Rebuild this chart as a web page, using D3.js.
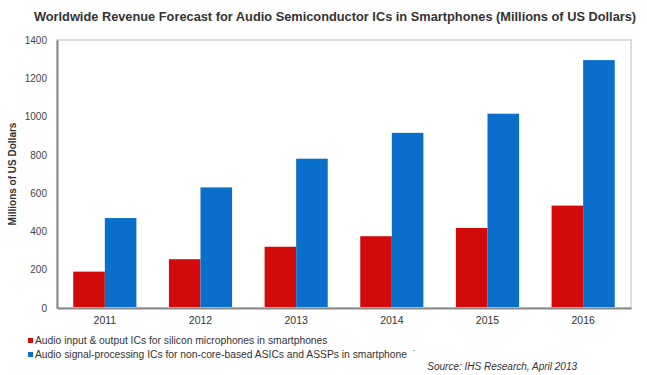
<!DOCTYPE html>
<html><head><meta charset="utf-8">
<script src="https://cdn.jsdelivr.net/npm/d3@7"></script>
<style>body{margin:0;background:#fff}svg{display:block;font-family:"Liberation Sans",Arial,sans-serif}</style>
</head><body><svg id="c" width="647" height="375"></svg>
<script>
const years = ["2011","2012","2013","2014","2015","2016"];
const inputOutput = [190, 255, 320, 375, 418, 535];
const signalProc = [470, 630, 780, 915, 1015, 1295];
const yTicks = [0,200,400,600,800,1000,1200,1400];
const seriesNames = ["Audio input & output ICs for silicon microphones in smartphones",
  "Audio signal-processing ICs for non-core-based ASICs and ASSPs in smartphone\u00a0\u00a0\u02d9"];
const colors = ["#d20a0a", "#0a6fca"];

const svg = d3.select("#c");
const m = {l:57, r:631, t:40, b:308};
const x = d3.scaleBand().domain(years).range([m.l, m.r]).paddingInner(0.34).paddingOuter(0.17);
const xs = d3.scaleBand().domain([0,1]).range([0, x.bandwidth()]);
const y = d3.scaleLinear().domain([0,1400]).range([m.b, m.t]);

svg.append("text").attr("x", 335).attr("y", 21).attr("text-anchor","middle")
  .attr("font-weight","bold").attr("font-size", 12.8).attr("fill","#333")
  .text("Worldwide Revenue Forecast for Audio Semiconductor ICs in Smartphones (Millions of US Dollars)");

// frame
svg.append("rect").attr("x", m.l).attr("y", m.t).attr("width", m.r-m.l).attr("height", m.b-m.t)
  .attr("fill","none").attr("stroke","#bbb").attr("stroke-width",1);

const yAxis = d3.axisLeft(y).tickValues(yTicks).tickFormat(d3.format("d")).tickSize(0).tickPadding(10);
const ga = svg.append("g").attr("transform",`translate(${m.l},0)`).call(yAxis);
ga.select(".domain").attr("stroke","#888").attr("stroke-width",2);
ga.selectAll("text").attr("font-size",10).attr("fill","#444").attr("font-family","Liberation Sans, Arial");

const xAxis = d3.axisBottom(x).tickSize(0).tickPadding(9);
const gx = svg.append("g").attr("transform",`translate(0,${m.b})`).call(xAxis);
gx.select(".domain").attr("stroke","#888").attr("stroke-width",2);
gx.selectAll("text").attr("font-size",10.5).attr("fill","#333").attr("font-family","Liberation Sans, Arial");

const series = [inputOutput, signalProc];
series.forEach((vals, si) => {
  svg.append("g").selectAll("rect").data(vals).join("rect")
    .attr("x", (d,i) => x(years[i]) + xs(si))
    .attr("width", xs.bandwidth())
    .attr("y", d => y(d))
    .attr("height", d => m.b - y(d) - 1)
    .attr("fill", colors[si]);
});

svg.append("text").attr("transform","translate(16,174) rotate(-90)").attr("text-anchor","middle")
  .attr("font-weight","bold").attr("font-size",10).attr("fill","#333").text("Millions of US Dollars");

// legend
seriesNames.forEach((n, i) => {
  const ly = 342 + i*14;
  svg.append("rect").attr("x", 28).attr("y", ly-4).attr("width",5).attr("height",5).attr("fill", colors[i]);
  svg.append("text").attr("x", 35).attr("y", ly+2).attr("font-size",10.3).attr("fill","#333").text(n);
});

svg.append("text").attr("x", 577).attr("y", 370).attr("text-anchor","end")
  .attr("font-style","italic").attr("font-size",10).attr("fill","#333").text("Source: IHS Research, April 2013");
</script></body></html>
